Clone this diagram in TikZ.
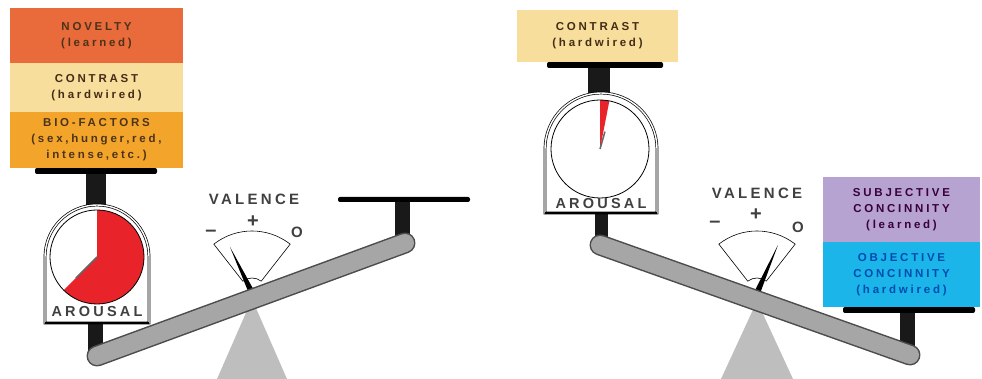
\documentclass[tikz,border=0pt]{standalone}
\usepackage{fontspec}
\usetikzlibrary{calc}
\setmainfont{Liberation Sans}
\newfontfamily\signfont{Liberation Sans}[LetterSpace=22]
\newfontfamily\cardfont{Liberation Sans}[LetterSpace=24]

\definecolor{novelty}{RGB}{233,106,59}
\definecolor{contrast}{RGB}{248,222,156}
\definecolor{biofac}{RGB}{242,165,42}
\definecolor{subjconc}{RGB}{183,163,210}
\definecolor{objconc}{RGB}{27,181,233}
\definecolor{arousred}{RGB}{232,36,42}
\definecolor{beamgray}{RGB}{166,166,166}
\definecolor{standgray}{RGB}{190,190,190}

\tikzset{
  card/.style={inner sep=0pt, align=center, font=\cardfont\bfseries\fontsize{11.5}{16}\selectfont},
  plate/.style={fill=black, rounded corners=2pt},
  post/.style={fill=black!90},
  beam/.style={line cap=round, line width=21pt, draw=black!70, postaction={draw=beamgray, line width=18pt}},
  housing/.style={draw, double, double distance=1.4pt, line width=0.7pt, fill=white},
  sign/.style={font=\signfont\bfseries\fontsize{15}{15}\selectfont, text=black!75},
  signmark/.style={font=\bfseries\fontsize{20}{20}\selectfont, text=black!75},
  fan/.style={draw, line width=0.6pt, fill=white},
}

\begin{document}
\begin{tikzpicture}[x=1pt,y=1pt]
  \useasboundingbox (0,0) rectangle (982,379);
  % stands
  \fill[standgray] (252,80) -- (217,0) -- (287,0) -- cycle;
  \fill[standgray] (757,78) -- (721,0) -- (793,0) -- cycle;
  % valence gauges
  \coordinate (pivL) at (252,86);
  \coordinate (pivR) at (757,86);
  \coordinate (tipL) at (230,132);
  \coordinate (tipR) at (778,134);
  \foreach \p in {pivL,pivR}
    \draw[fan] ($(\p)+(52:15)$) -- ($(\p)+(52:62)$) arc (52:128:62) -- ($(\p)+(128:15)$) arc (128:52:15);
  \fill ($(pivL)!3pt!90:(tipL)$) -- (tipL) -- ($(pivL)!3pt!-90:(tipL)$) -- cycle;
  \fill ($(pivR)!3pt!90:(tipR)$) -- (tipR) -- ($(pivR)!3pt!-90:(tipR)$) -- cycle;
  \node[sign] (valL) at (254,180) {VALENCE};
  \node[signmark] (minL) at (211,146) {–};
  \node[signmark] (plusL) at (253,157) {+};
  \node[sign] (zeroL) at (297,147) {O};
  \node[sign] (valR) at (757,186) {VALENCE};
  \node[signmark] (minR) at (715,155) {–};
  \node[signmark] (plusR) at (756,164) {+};
  \node[sign] (zeroR) at (798,152) {O};
  % posts
  \fill[post] (86,205) rectangle (106,170);
  \fill[post] (88,60) rectangle (103,25);
  \fill[post] (395,179) rectangle (410,130);
  \fill[post] (588,311) rectangle (610,280);
  \fill[post] (595,170) rectangle (608,132);
  \fill[post] (900,66) rectangle (915,28);
  % beams
  \draw[beam] (97,23) -- (405,136);
  \draw[beam] (600,134) -- (910,24);
  % arousal scales
  \draw[housing] (45,56) -- (45,122) arc (180:0:52) -- (149,56) -- cycle;
  \draw[line width=2.5pt] (45,56) -- (149,56);
  \fill[arousred] (97,122) -- ++(90:47) arc (90:-135:47) -- cycle;
  \draw[line width=0.8pt] (97,122) circle (47);
  \draw[black!60, line width=1.5pt] (97,122) -- ++(225:30);
  \node[sign, font=\signfont\bfseries\fontsize{14.5}{15}\selectfont] (arL) at (97,67) {AROUSAL};
  \draw[housing] (545,166) -- (545,230) arc (180:0:56) -- (657,166) -- cycle;
  \draw[line width=2.5pt] (545,166) -- (657,166);
  \fill[arousred] (600,230) -- ++(90:49) arc (90:79:49) -- cycle;
  \draw[line width=0.8pt] (600,230) circle (49);
  \draw[black!60, line width=1.5pt] (600,230) -- ++(74:18);
  \node[sign, font=\signfont\bfseries\fontsize{14.5}{15}\selectfont] (arR) at (601,175) {AROUSAL};
  % plates
  \fill[plate] (35,205) rectangle (157,211);
  \fill[plate] (338,177) rectangle (470,182);
  \fill[plate] (547,311) rectangle (663,317);
  \fill[plate] (843,66) rectangle (975,72);
  % stimulus cards
  \node[card, fill=novelty, text=black!60!brown, minimum width=173pt, minimum height=55pt] (novL) at (96.5,343.5) {NOVELTY\\(learned)};
  \node[card, fill=contrast, text=black!65!brown, minimum width=173pt, minimum height=49pt] (conL) at (96.5,291.5) {CONTRAST\\(hardwired)};
  \node[card, fill=biofac, text=black!60!brown, minimum width=173pt, minimum height=56pt] (bioL) at (96.5,239) {BIO-FACTORS\\(sex,hunger,red,\\intense,etc.)};
  \node[card, fill=contrast, text=black!65!brown, minimum width=161pt, minimum height=52pt] (conR) at (597.5,343) {CONTRAST\\(hardwired)};
  \node[card, fill=subjconc, text=black!55!violet, minimum width=157pt, minimum height=65pt] (subR) at (901.5,169.5) {SUBJECTIVE\\CONCINNITY\\(learned)};
  \node[card, fill=objconc, text=black!45!blue!70!cyan, minimum width=157pt, minimum height=65pt] (objR) at (901.5,104.5) {OBJECTIVE\\CONCINNITY\\(hardwired)};
\end{tikzpicture}
\end{document}
